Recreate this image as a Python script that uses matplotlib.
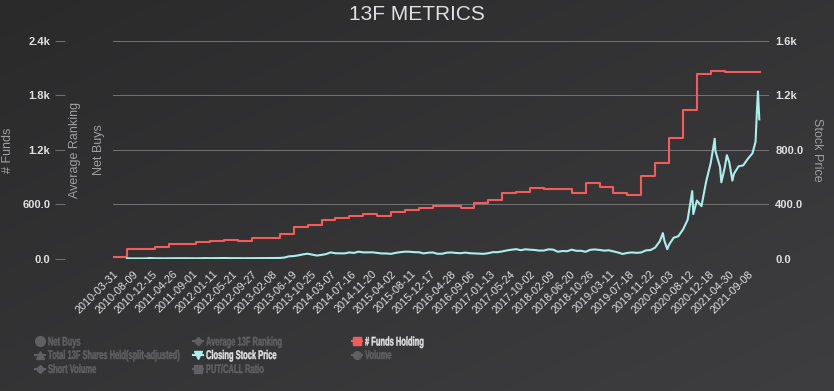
import numpy as np
import pandas as pd
import matplotlib
matplotlib.use('Agg')
import matplotlib.pyplot as plt
from matplotlib.textpath import TextPath
from matplotlib.patches import PathPatch
from matplotlib.font_manager import FontProperties
from matplotlib.transforms import Affine2D
from matplotlib.lines import Line2D
from matplotlib.ticker import FuncFormatter

W, H = 834, 391

# x axis: trading-day index, one label every 90 trading days
tick_labels = ['2010-03-31', '2010-08-09', '2010-12-15', '2011-04-26', '2011-09-01',
               '2012-01-11', '2012-05-21', '2012-09-27', '2013-02-08', '2013-06-19',
               '2013-10-25', '2014-03-07', '2014-07-16', '2014-11-20', '2015-04-02',
               '2015-08-11', '2015-12-17', '2016-04-28', '2016-09-06', '2017-01-13',
               '2017-05-24', '2017-10-02', '2018-02-09', '2018-06-20', '2018-10-26',
               '2019-03-11', '2019-07-18', '2019-11-22', '2020-04-03', '2020-08-12',
               '2020-12-18', '2021-04-30', '2021-09-08']
tick_step = 90
end_day = 2930

# 13F funds holding, one value per quarter from 2010-03-31 (63 trading days each)
funds = [25, 106, 110, 135, 164, 166, 183, 197, 212, 201, 230, 232, 278, 347, 373, 431,
         446, 475, 500, 475, 519, 537, 566, 584, 582, 559, 621, 647, 727, 742, 778, 775,
         775, 723, 833, 789, 731, 709, 913, 1059, 1330, 1637, 2042, 2071, 2060, 2060, 2060]
quarter_len = 63

# closing price, month ends 2010-06 .. 2021-10 (21 trading days per month)
price_monthly = [4.8, 3.9, 3.9, 4.1, 4.3, 7.0, 5.3,
                 4.8, 4.8, 5.5, 5.6, 5.9, 5.8, 5.7, 4.9, 4.9, 5.9, 6.5, 5.7,
                 5.8, 6.7, 7.4, 6.6, 5.9, 6.3, 5.5, 5.7, 5.9, 5.7, 6.8, 6.8,
                 7.5, 7.0, 7.6, 10.8, 19.5, 21.5, 26.9, 33.8, 38.7, 32.0, 25.5, 30.1,
                 36.2, 48.8, 41.7, 41.6, 41.3, 48.0, 44.7, 53.9, 48.5, 48.3, 48.9, 44.5,
                 40.7, 40.6, 37.8, 45.0, 50.1, 53.7, 53.3, 50.0, 49.7, 41.3, 46.0, 48.0,
                 38.3, 38.4, 46.0, 48.0, 44.7, 42.5, 46.9, 42.5, 40.8, 39.5, 37.8, 42.7,
                 50.4, 50.0, 55.7, 62.8, 68.1, 72.3, 64.7, 71.2, 68.2, 66.2, 61.6, 62.3,
                 70.9, 68.6, 53.2, 58.7, 56.9, 68.6, 59.8, 60.3, 52.9, 67.5, 70.1, 66.6,
                 61.4, 63.9, 56.0, 47.7, 37.0, 44.7, 48.3, 45.1, 48.2, 62.9, 65.6, 83.7,
                 130.1, 133.6, 104.8, 156.4, 167.0, 216.0, 286.2, 498.3, 429.0, 388.0, 567.6, 705.7,
                 793.5, 675.5, 667.9, 709.4, 625.2, 680.0, 687.2, 735.7, 775.5, 1114.0]
price_first_month = 3  # 2010-06 is 3 months after 2010-03
price_extra_days = [2492, 2512, 2630, 2727, 2757, 2782, 2807, 2912, 2923, 2929]
price_extra_vals = [190, 72, 330, 883, 563, 762, 575, 860, 1230, 1025]

legend_names = ['Net Buys', 'Average 13F Ranking', '# Funds Holding',
                'Total 13F Shares Held(split-adjusted)', 'Closing Stock Price', 'Volume',
                'Short Volume', 'PUT/CALL Ratio']
legend_colors = ['#2b908f', '#90ee7e', '#f45b5b', '#7798BF', '#aaeeee', '#ff0066',
                 '#eeaaee', '#55BF3B']
legend_markers = ['o', 'D', 's', '^', 'v', 'o', 'D', 's']
legend_active = [False, False, True, False, True, False, False, False]

FUNDS_COLOR = '#f45b5b'
PRICE_COLOR = '#aaeeee'
GRID = '#707073'
LABEL = '#E0E0E3'
HIDDEN = '#606063'
AXTITLE = '#A0A0A3'
FONT = 'Liberation Sans'


def kfmt(v, pos):
    if v >= 1000:
        return '%gk' % (v / 1000.0)
    return '%.1f' % v


def fx(x):
    return x / W


def fy(y):
    return 1 - y / H


fig = plt.figure(figsize=(W / 100, H / 100), dpi=100)

# background gradient (top-left dark -> bottom-right lighter)
bg = fig.add_axes([0, 0, 1, 1], zorder=-10)
u = np.linspace(0, 1, W)[None, :]
v = np.linspace(0, 1, H)[:, None]
t = (u + v) / 2
c0 = np.array([0x2a, 0x2a, 0x2b]) / 255.
c1 = np.array([0x3e, 0x3e, 0x40]) / 255.
img = c0[None, None, :] * (1 - t[..., None]) + c1[None, None, :] * t[..., None]
bg.imshow(img, aspect='auto', extent=[0, 1, 0, 1], origin='upper')
bg.axis('off')

left, right, top, bottom = 113, 769, 41, 259
ax = fig.add_axes([fx(left), fy(bottom), (right - left) / W, (bottom - top) / H])
ax.set_facecolor('none')
ax2 = ax.twinx()

# funds holding (quarterly step line)
q_days = [quarter_len * i for i in range(len(funds))] + [end_day]
q_vals = funds + [funds[-1]]
ax.plot(q_days, q_vals, drawstyle='steps-post', color=FUNDS_COLOR, lw=1.5, zorder=3)

# closing price
m_days = [21 * (price_first_month + i) for i in range(len(price_monthly))]
p_days = np.array(m_days + price_extra_days)
p_vals = np.array(price_monthly + price_extra_vals)
order = np.argsort(p_days, kind='stable')
ax2.plot(p_days[order], p_vals[order], color=PRICE_COLOR, lw=1.5, zorder=3)

px_per_day = (749 - 114) / ((len(tick_labels) - 1) * tick_step)
ax.set_xlim(-(left - 113.5) / px_per_day - 1.5, (right - 113.5) / px_per_day)
ax.set_ylim(0, 2400)
ax2.set_ylim(0, 1600)
ax.set_yticks([0, 600, 1200, 1800, 2400])
ax2.set_yticks([0, 400, 800, 1200, 1600])
ax.yaxis.set_major_formatter(FuncFormatter(kfmt))
ax2.yaxis.set_major_formatter(FuncFormatter(kfmt))
ax.grid(axis='y', color=GRID, lw=0.75)
ax.set_axisbelow(True)

for a in (ax, ax2):
    for s in a.spines.values():
        s.set_visible(False)

ax.spines['left'].set_position(('outward', 34.5))
ax.tick_params(axis='y', length=7.2, width=0.75, color=GRID, pad=3.5,
               labelcolor=LABEL, labelsize=8)
ax2.tick_params(axis='y', length=0, pad=4.5, labelcolor=LABEL, labelsize=8)
for lab in ax.get_yticklabels() + ax2.get_yticklabels():
    lab.set_fontweight('bold')
    lab.set_family(FONT)

ax.set_xticks([tick_step * i for i in range(len(tick_labels))])
ax.set_xticklabels(tick_labels, rotation=45, ha='right', va='top',
                   rotation_mode='anchor', family=FONT, fontsize=7.8, color=LABEL)
ax.tick_params(axis='x', length=0, pad=7)

# title and axis titles
fig.text(0.5, fy(14), '13F METRICS', ha='center', va='center', color=LABEL,
         fontsize=15, family=FONT)
for x, txt in [(8, '# Funds'), (75, 'Average Ranking'), (99, 'Net Buys')]:
    fig.text(fx(x), fy(150), txt, rotation=90, ha='center', va='center',
             color=AXTITLE, fontsize=9, family=FONT)
fig.text(fx(817), fy(150), 'Stock Price', rotation=270, ha='center', va='center',
         color=AXTITLE, fontsize=9, family=FONT)

# legend (condensed bold text drawn as paths)
prop = FontProperties(family=FONT, weight='bold')
tsize = 12.5
ref_w = TextPath((0, 0), 'Closing Stock Price', size=tsize, prop=prop).get_extents().width
sx = 70.0 / ref_w
col_x = [35, 193, 352]
row_y = [341, 354.5, 368.5]
for i, name in enumerate(legend_names):
    cx = col_x[i % 3]
    cy = row_y[i // 3]
    col = legend_colors[i] if legend_active[i] else HIDDEN
    tcol = LABEL if legend_active[i] else HIDDEN
    if i == 0:
        fig.add_artist(Line2D([fx(cx + 5)], [fy(cy)], marker='o', ms=7,
                              color=col, mec=col, transform=fig.transFigure))
    else:
        fig.add_artist(Line2D([fx(cx), fx(cx + 10)], [fy(cy), fy(cy)], lw=1.5,
                              color=col, transform=fig.transFigure))
        ms = 4.5 if legend_markers[i] == 'D' else 5.5
        fig.add_artist(Line2D([fx(cx + 5)], [fy(cy)], marker=legend_markers[i], ms=ms,
                              color=col, mec=col, transform=fig.transFigure))
    tp = TextPath((0, 0), name, size=tsize, prop=prop)
    tr = Affine2D().scale(sx, 1).translate(cx + 13, H - cy - 4.5)
    fig.add_artist(PathPatch(tp, transform=tr, color=tcol, lw=0.3))

fig.savefig('out.png', dpi=100, facecolor=fig.get_facecolor())
